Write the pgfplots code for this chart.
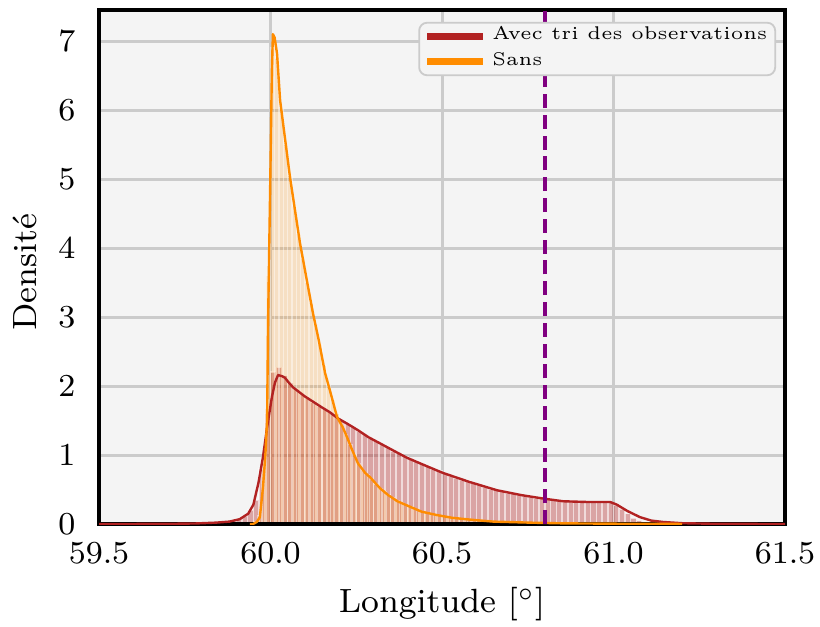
\documentclass[border=0pt]{standalone}
\usepackage{graphicx}
\usepackage{pgfplots}
\pgfplotsset{compat=1.18}
\definecolor{bgc}{HTML}{F4F4F4}
\definecolor{gridc}{HTML}{CBCBCB}
\definecolor{firebrick}{HTML}{B22222}
\definecolor{darkorange}{HTML}{FF8C00}
\definecolor{mplpurple}{HTML}{800080}
\begin{document}
\begin{tikzpicture}[font=\fontsize{8.4}{10}\selectfont]
\begin{axis}[
  scale only axis, width=171.5pt, height=128.5pt,
  xmin=59.5, xmax=61.5, ymin=0, ymax=7.45,
  axis background/.style={fill=bgc},
  axis line style={black, line width=1pt},
  grid=major, major grid style={gridc, line width=0.75pt},
  major tick length=0pt,
  xtick={59.5,60,60.5,61,61.5}, ytick={0,1,2,3,4,5,6,7},
  xticklabel style={/pgf/number format/.cd, fixed, fixed zerofill, precision=1, /tikz/.cd, yshift=-1.2pt},
  yticklabel style={xshift=-2.4pt},
  xlabel={Longitude [$^\circ$]}, ylabel={Densité},
  xlabel style={at={(axis description cs:0.5,-0.1712)}, anchor=base},
  ylabel style={at={(axis description cs:-0.108,0.49)}, anchor=center},
  legend cell align=left,
  legend image code/.code={\path[draw=none, fill=none] (0pt,0pt) -- (16.15pt,0pt); \draw[#1, line width=1.75pt] (0.75pt,0pt) -- (14.75pt,0pt);},
  legend style={at={(rel axis cs:0.987,0.977)}, anchor=north east, fill=bgc, draw=gridc, line width=0.45pt, rounded corners=2pt, font=\fontsize{4.6}{6}\selectfont, inner xsep=1.2pt, inner ysep=0.2pt, nodes={inner sep=0.8pt}, column sep=0pt, row sep=0pt},
  clip=true,
]
\addlegendimage{firebrick}\addlegendentry{Avec tri des observations}
\addlegendimage{darkorange}\addlegendentry{Sans}
% histogram with sorting (bin width 1/60 from 59.85)
\addplot[forget plot, ybar interval, fill=firebrick, fill opacity=0.38, draw=white, draw opacity=0.6, line width=0.4pt]
 table[header=false, row sep=\\, x expr=59.85+\coordindex/60, y index=0] {
0.02\\0.03\\0.05\\0.08\\0.12\\0.2\\0.35\\0.8\\1.6\\2.2\\2.27\\2.15\\2.05\\1.95\\1.88\\1.82\\1.76\\1.71\\1.66\\1.62\\1.56\\1.50\\1.45\\1.40\\1.35\\1.30\\1.25\\1.20\\1.15\\1.11\\1.06\\1.02\\0.98\\0.95\\0.91\\0.88\\0.84\\0.80\\0.77\\0.73\\0.70\\0.67\\0.64\\0.62\\0.59\\0.56\\0.54\\0.51\\0.49\\0.47\\0.45\\0.44\\0.42\\0.41\\0.39\\0.38\\0.37\\0.36\\0.35\\0.34\\0.33\\0.33\\0.33\\0.32\\0.32\\0.32\\0.32\\0.32\\0.31\\0.28\\0.22\\0.15\\0.09\\0.05\\0.03\\0.02\\0.01\\0.005\\0\\
};
% histogram without sorting (bin width 1/80 from 59.95)
\addplot[forget plot, ybar interval, fill=darkorange, fill opacity=0.2, draw=white, draw opacity=0.45, line width=0.3pt]
 table[header=false, row sep=\\, x expr=59.95+\coordindex/80, y index=0] {
0.03\\0.12\\0.9\\3.6\\6.9\\6.75\\6.0\\5.5\\5.05\\4.6\\4.2\\3.85\\3.5\\3.2\\2.9\\2.6\\2.3\\2.0\\1.8\\1.6\\1.45\\1.3\\1.15\\1.0\\0.88\\0.78\\0.72\\0.65\\0.58\\0.52\\0.47\\0.42\\0.38\\0.34\\0.31\\0.28\\0.25\\0.22\\0.20\\0.18\\0.16\\0.14\\0.13\\0.12\\0.11\\0.10\\0.09\\0.08\\0.07\\0.065\\0.06\\0.055\\0.05\\0.045\\0.04\\0.035\\0.03\\0.03\\0.025\\0.025\\0.02\\0.02\\0.02\\0.02\\0.015\\0.015\\0.015\\0.012\\0.012\\0.012\\0.01\\0.01\\0.01\\0.01\\0.008\\0.008\\0.008\\0.006\\0.006\\0.005\\0\\
};
% restore the bottom frame over the bar edges
\draw[black, line width=1pt] (rel axis cs:0,0) -- (rel axis cs:1,0);
% KDE with sorting
\addplot[forget plot, firebrick, line width=0.6pt, line join=round] coordinates {
(59.50,0.000) (59.60,0.001) (59.70,0.003) (59.78,0.008) (59.84,0.02) (59.88,0.035) (59.91,0.07) (59.935,0.15) (59.95,0.28) (59.965,0.60) (59.978,0.97) (59.99,1.40) (60.004,1.84) (60.013,2.05) (60.022,2.16) (60.035,2.14) (60.042,2.12) (60.055,2.04) (60.066,1.98) (60.10,1.85) (60.15,1.69) (60.173,1.62) (60.197,1.53) (60.225,1.45) (60.255,1.36) (60.285,1.26) (60.319,1.17) (60.36,1.06) (60.398,0.96) (60.45,0.85) (60.503,0.74) (60.58,0.61) (60.62,0.55) (60.66,0.49) (60.73,0.42) (60.794,0.37) (60.853,0.33) (60.92,0.32) (60.97,0.32) (60.99,0.32) (61.01,0.28) (61.04,0.19) (61.077,0.10) (61.11,0.05) (61.144,0.03) (61.2,0.012) (61.3,0.003) (61.5,0.000)
};
% KDE without sorting
\addplot[forget plot, darkorange, line width=0.6pt, line join=round] coordinates {
(59.94,0.0) (59.949,0.0) (59.960,0.03) (59.969,0.1) (59.978,0.53) (59.985,1.0) (59.990,1.5) (59.993,2.95) (59.999,4.88) (60.004,6.57) (60.007,7.1) (60.012,7.05) (60.019,6.82) (60.028,6.14) (60.057,5.02) (60.086,4.07) (60.106,3.53) (60.124,3.05) (60.14,2.68) (60.159,2.19) (60.173,1.94) (60.194,1.55) (60.211,1.40) (60.223,1.26) (60.240,1.05) (60.255,0.88) (60.276,0.74) (60.290,0.68) (60.319,0.52) (60.343,0.42) (60.37,0.33) (60.407,0.25) (60.44,0.18) (60.485,0.13) (60.53,0.09) (60.59,0.06) (60.65,0.035) (60.757,0.02) (60.85,0.01) (61.0,0.005) (61.2,0.001)
};
% reference longitude
\addplot[forget plot, mplpurple, line width=1pt, dash pattern=on 3.5pt off 1.7pt] coordinates {(60.8,0) (60.8,7.45)};
\end{axis}
\pgfresetboundingbox
\path (-24.75pt,-25.5pt) rectangle (180.25pt,131pt);
\end{tikzpicture}
\end{document}
